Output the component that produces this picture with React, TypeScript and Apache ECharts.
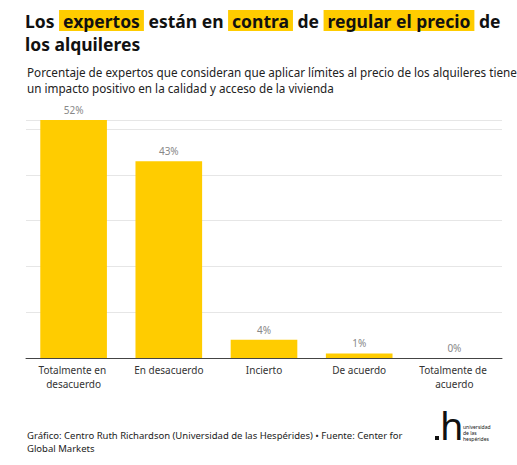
import React, { useEffect, useRef } from "react";
import * as echarts from "echarts";

const categories = [
  "Totalmente en desacuerdo",
  "En desacuerdo",
  "Incierto",
  "De acuerdo",
  "Totalmente de acuerdo",
];
const shares = [52, 43, 4, 1, 0];

const titleText =
  "Los {h|expertos} están en {h|contra} de {h|regular el precio} de\nlos alquileres";
const subtitleText =
  "Porcentaje de expertos que consideran que aplicar límites al precio de los alquileres tiene\nun impacto positivo en la calidad y acceso de la vivienda";
const footerText =
  "Gráfico: Centro Ruth Richardson (Universidad de las Hespérides) • Fuente: Center for\nGlobal Markets";

const FONT = "'Noto Sans', sans-serif";
const YELLOW = "#FFCC00";

export default function App() {
  const ref = useRef<HTMLDivElement>(null);

  useEffect(() => {
    if (!ref.current) return;
    const chart = echarts.init(ref.current, undefined, { renderer: "svg" });
    chart.setOption({
      animation: false,
      backgroundColor: "#fff",
      textStyle: { fontFamily: FONT },
      title: [
        {
          text: titleText,
          left: 25,
          top: 9,
          padding: 0,
          textStyle: {
            fontFamily: FONT,
            fontSize: 17.5,
            fontWeight: "bold",
            color: "#111",
            lineHeight: 23,
            rich: {
              h: {
                fontFamily: FONT,
                fontSize: 17.5,
                fontWeight: "bold",
                color: "#111",
                backgroundColor: YELLOW,
                padding: [2, 4, 1, 4],
                lineHeight: 23,
              },
            },
          },
        },
        {
          text: subtitleText,
          left: 27,
          top: 64,
          padding: 0,
          textStyle: {
            fontFamily: FONT,
            fontSize: 11.7,
            fontWeight: "normal",
            color: "#222",
            lineHeight: 16,
          },
        },
        {
          text: footerText,
          left: 27,
          top: 429,
          padding: 0,
          textStyle: {
            fontFamily: FONT,
            fontSize: 9.5,
            fontWeight: "normal",
            color: "#222",
            lineHeight: 13,
          },
        },
      ],
      grid: { left: 26, right: 15, top: 120, bottom: 107, containLabel: false },
      xAxis: {
        type: "category",
        data: categories,
        axisLine: { lineStyle: { color: "#444", width: 1 } },
        axisTick: { show: false },
        axisLabel: {
          interval: 0,
          margin: 5,
          fontFamily: FONT,
          fontSize: 10,
          color: "#333",
          lineHeight: 14,
          width: 86,
          overflow: "break",
        },
      },
      yAxis: {
        type: "value",
        min: 0,
        max: 52,
        interval: 10,
        axisLabel: { show: false },
        axisLine: { show: false },
        axisTick: { show: false },
        splitLine: { lineStyle: { color: "#e6e6e6", width: 1 } },
      },
      series: [
        {
          type: "bar",
          data: shares,
          barWidth: "70%",
          itemStyle: { color: YELLOW },
          label: {
            show: true,
            position: "top",
            distance: 5,
            formatter: "{c}%",
            fontFamily: FONT,
            fontSize: 10,
            color: "#888",
          },
        },
      ],
      graphic: [
        {
          type: "rect",
          shape: { x: 435, y: 436, width: 4, height: 4 },
          style: { fill: "#111" },
        },
        {
          type: "text",
          x: 440,
          y: 406,
          style: {
            text: "h",
            fontFamily: FONT,
            fontSize: 38,
            fontWeight: "normal",
            fill: "#111",
          },
        },
        {
          type: "text",
          x: 463,
          y: 424,
          style: {
            text: "universidad\nde las\nhespérides",
            fontFamily: FONT,
            fontSize: 5,
            lineHeight: 6,
            fill: "#111",
          },
        },
      ],
    });
    return () => chart.dispose();
  }, []);

  return (
    <div
      ref={ref}
      style={{ position: "absolute", left: 0, top: 0, width: 517, height: 465 }}
    />
  );
}
